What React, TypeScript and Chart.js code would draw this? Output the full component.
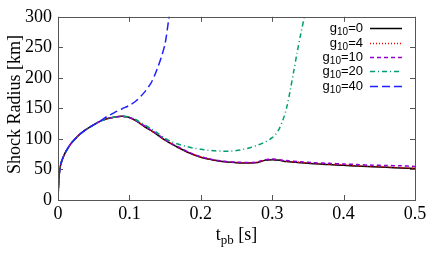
import React, { useEffect, useRef } from 'react';
import { Chart, registerables } from 'chart.js';

Chart.register(...registerables);

// ---- Data ----
const gValues = ['0', '4', '10', '20', '40'];

const tG0 = [0, 0.001, 0.0025, 0.005, 0.0095, 0.015, 0.02, 0.03, 0.04, 0.05, 0.06, 0.07, 0.08, 0.09, 0.1, 0.11, 0.12, 0.13, 0.14, 0.15, 0.16, 0.17, 0.18, 0.19, 0.2, 0.21, 0.22, 0.23, 0.24, 0.25, 0.26, 0.27, 0.28, 0.29, 0.3, 0.31, 0.32, 0.34, 0.36, 0.38, 0.4, 0.42, 0.44, 0.46, 0.48, 0.5];
const rG0 = [0, 30, 50, 63, 76, 87, 95, 107, 116, 123, 129.5, 133.5, 136, 137, 135, 129, 121, 114, 106, 98, 91, 85, 79, 74, 70, 67, 65, 63, 62, 61, 60.5, 60.5, 61.5, 65, 66, 65, 63, 61, 59.5, 58, 57, 55.5, 54.5, 53.5, 52.5, 51.5];

const tG4 = [0, 0.001, 0.0025, 0.005, 0.0095, 0.015, 0.02, 0.03, 0.04, 0.05, 0.06, 0.07, 0.08, 0.09, 0.1, 0.11, 0.12, 0.13, 0.14, 0.15, 0.16, 0.17, 0.18, 0.19, 0.2, 0.21, 0.22, 0.23, 0.24, 0.25, 0.26, 0.27, 0.28, 0.29, 0.3, 0.31, 0.32, 0.34, 0.36, 0.38, 0.4, 0.42, 0.44, 0.46, 0.48, 0.5];
const rG4 = [0, 30, 50, 63, 76, 87, 95, 107, 116, 123, 129.5, 133.5, 136, 137, 135, 129, 121.5, 114, 106.5, 98.5, 91.5, 85, 79.5, 74.5, 70.5, 67.5, 65, 63.5, 62, 61.5, 61, 61, 62, 65.5, 66.5, 65.5, 63.5, 61.5, 60, 58.5, 57.5, 56, 55, 54, 53, 52];

const tG10 = [0, 0.001, 0.0025, 0.005, 0.0095, 0.015, 0.02, 0.03, 0.04, 0.05, 0.06, 0.07, 0.08, 0.09, 0.1, 0.11, 0.12, 0.13, 0.14, 0.15, 0.16, 0.17, 0.18, 0.19, 0.2, 0.21, 0.22, 0.23, 0.24, 0.25, 0.26, 0.27, 0.28, 0.29, 0.3, 0.31, 0.32, 0.34, 0.36, 0.38, 0.4, 0.42, 0.44, 0.46, 0.48, 0.5];
const rG10 = [0, 30, 50, 63, 76, 87, 95, 107, 116, 123, 129.5, 133.5, 136, 137, 135, 129.5, 122, 115, 107, 99, 92, 86, 80, 75, 71, 68, 65.5, 64, 62.5, 62, 61.5, 61.5, 62.5, 66, 67, 66, 64.5, 62.5, 61, 60, 59, 58, 57, 56.5, 56, 55];

const tG20 = [0, 0.001, 0.0025, 0.005, 0.0095, 0.015, 0.02, 0.03, 0.04, 0.05, 0.06, 0.07, 0.08, 0.09, 0.1, 0.11, 0.12, 0.13, 0.14, 0.15, 0.16, 0.17, 0.18, 0.19, 0.2, 0.21, 0.22, 0.23, 0.24, 0.25, 0.26, 0.27, 0.28, 0.29, 0.3, 0.305, 0.31, 0.315, 0.32, 0.325, 0.33, 0.335, 0.34, 0.346];
const rG20 = [0, 30, 50, 63, 76, 87, 95, 107, 116, 123, 129.5, 133.5, 136, 137, 136, 131, 124, 117, 109, 101, 95, 91, 87.5, 85, 83, 81.5, 80.5, 80, 80, 81, 83, 86, 90, 95, 102, 108, 117, 131, 150, 178, 210, 242, 272, 305];

const tG40 = [0, 0.001, 0.0025, 0.005, 0.0095, 0.015, 0.02, 0.03, 0.04, 0.05, 0.06, 0.065, 0.07, 0.08, 0.09, 0.1, 0.11, 0.12, 0.13, 0.135, 0.14, 0.145, 0.15, 0.155, 0.157];
const rG40 = [0, 30, 50, 63, 76, 87, 95, 107, 116, 123, 130, 134, 137.5, 144, 149.5, 155, 163, 175, 191, 203, 218, 235, 256, 295, 310];

const xTickLabels = ['0', '0.1', '0.2', '0.3', '0.4', '0.5'];
const yTickLabels = ['0', '50', '100', '150', '200', '250', '300'];

const seriesT = [tG0, tG4, tG10, tG20, tG40];
const seriesR = [rG0, rG4, rG10, rG20, rG40];
const colors = ['#000000', '#ff0000', '#9400d3', '#009e73', '#1f1fff'];
const dashes: number[][] = [[], [1, 2], [4, 3], [5, 3, 1, 3], [8, 4]];

const W = 436;
const H = 262;

const decorPlugin = {
  id: 'decor',
  afterDraw(chart: any) {
    const ctx = chart.ctx as CanvasRenderingContext2D;
    const { left, right, top, bottom } = chart.chartArea;
    const xs = chart.scales.x;
    const ys = chart.scales.y;
    ctx.save();
    // border
    ctx.strokeStyle = '#555555';
    ctx.lineWidth = 1;
    ctx.setLineDash([]);
    ctx.strokeRect(Math.round(left) + 0.5, Math.round(top) + 0.5, Math.round(right - left), Math.round(bottom - top));
    // inward ticks
    const tl = 5;
    ctx.beginPath();
    xs.ticks.forEach((tk: any) => {
      const px = Math.round(xs.getPixelForValue(tk.value)) + 0.5;
      ctx.moveTo(px, bottom);
      ctx.lineTo(px, bottom - tl);
      ctx.moveTo(px, top);
      ctx.lineTo(px, top + tl);
    });
    ys.ticks.forEach((tk: any) => {
      const py = Math.round(ys.getPixelForValue(tk.value)) + 0.5;
      ctx.moveTo(left, py);
      ctx.lineTo(left + tl, py);
      ctx.moveTo(right, py);
      ctx.lineTo(right - tl, py);
    });
    ctx.stroke();

    // axis titles
    ctx.fillStyle = '#000';
    ctx.textBaseline = 'alphabetic';
    const big = '18px "Liberation Serif"';
    const small = '13px "Liberation Serif"';
    ctx.font = big;
    const wT = ctx.measureText('t').width;
    const wS = ctx.measureText(' [s]').width;
    ctx.font = small;
    const wP = ctx.measureText('pb').width;
    const totalX = wT + wP + wS;
    let cx = (left + right) / 2 - totalX / 2;
    const by = 240;
    ctx.font = big;
    ctx.textAlign = 'left';
    ctx.fillText('t', cx, by);
    cx += wT;
    ctx.font = small;
    ctx.fillText('pb', cx, by + 4);
    cx += wP;
    ctx.font = big;
    ctx.fillText(' [s]', cx, by);

    // y title
    ctx.save();
    ctx.translate(15, (top + bottom) / 2 - 4);
    ctx.rotate(-Math.PI / 2);
    ctx.font = big;
    ctx.textAlign = 'center';
    ctx.textBaseline = 'middle';
    ctx.fillText('Shock Radius [km]', 0, 0);
    ctx.restore();

    // legend
    const lf = '13px "Liberation Sans"';
    const sf = '10px "Liberation Sans"';
    const textRight = 363;
    const lineX0 = 370;
    const lineX1 = 402;
    const rowY = [28, 43, 57, 71, 86];
    gValues.forEach((g, i) => {
      const y = rowY[i];
      ctx.font = lf;
      const w1 = ctx.measureText('g').width;
      const w3 = ctx.measureText('=' + g).width;
      ctx.font = sf;
      const w2 = ctx.measureText('10').width;
      let x = textRight - (w1 + w2 + w3);
      ctx.textAlign = 'left';
      ctx.textBaseline = 'alphabetic';
      ctx.fillStyle = '#000';
      ctx.font = lf;
      ctx.fillText('g', x, y + 4);
      x += w1;
      ctx.font = sf;
      ctx.fillText('10', x, y + 7);
      x += w2;
      ctx.font = lf;
      ctx.fillText('=' + g, x, y + 4);
      ctx.strokeStyle = colors[i];
      ctx.lineWidth = 1.5;
      ctx.setLineDash(dashes[i]);
      ctx.beginPath();
      ctx.moveTo(lineX0, y + 0.5);
      ctx.lineTo(lineX1, y + 0.5);
      ctx.stroke();
    });
    ctx.restore();
  },
};

export default function App() {
  const ref = useRef<HTMLCanvasElement | null>(null);
  useEffect(() => {
    document.body.style.margin = '0';
    const canvas = ref.current;
    if (!canvas) return;
    const datasets = gValues.map((g, i) => ({
      label: 'g10=' + g,
      data: seriesT[i].map((t, j) => ({ x: t, y: seriesR[i][j] })),
      borderColor: colors[i],
      backgroundColor: colors[i],
      borderWidth: 1.5,
      borderDash: dashes[i],
      pointRadius: 0,
      tension: 0.3,
      fill: false,
    }));
    const chart = new Chart(canvas, {
      type: 'line',
      data: { datasets: datasets.slice().reverse() as any },
      options: {
        animation: false,
        responsive: false,
        devicePixelRatio: 1,
        layout: { padding: { left: 0, top: 15, right: 21, bottom: 0 } },
        plugins: { legend: { display: false }, tooltip: { enabled: false } },
        scales: {
          x: {
            type: 'linear',
            min: 0,
            max: 0.5,
            ticks: {
              stepSize: 0.1,
              color: '#000',
              font: { family: 'Liberation Serif', size: 18 },
              padding: 3,
              maxRotation: 0,
              callback: (_v: any, i: number) => xTickLabels[i],
            },
            grid: { display: false, drawTicks: false },
            border: { display: false },
            afterFit: (s: any) => { s.height = 62; },
          },
          y: {
            type: 'linear',
            min: 0,
            max: 300,
            ticks: {
              stepSize: 50,
              color: '#000',
              font: { family: 'Liberation Serif', size: 18 },
              padding: 6,
              callback: (_v: any, i: number) => yTickLabels[i],
            },
            grid: { display: false, drawTicks: false },
            border: { display: false },
            afterFit: (s: any) => { s.width = 58; },
          },
        },
      },
      plugins: [decorPlugin],
    });
    return () => chart.destroy();
  }, []);
  return (
    <div style={{ width: W, height: H }}>
      <canvas ref={ref} width={W} height={H} style={{ display: 'block', width: W, height: H }} />
    </div>
  );
}
